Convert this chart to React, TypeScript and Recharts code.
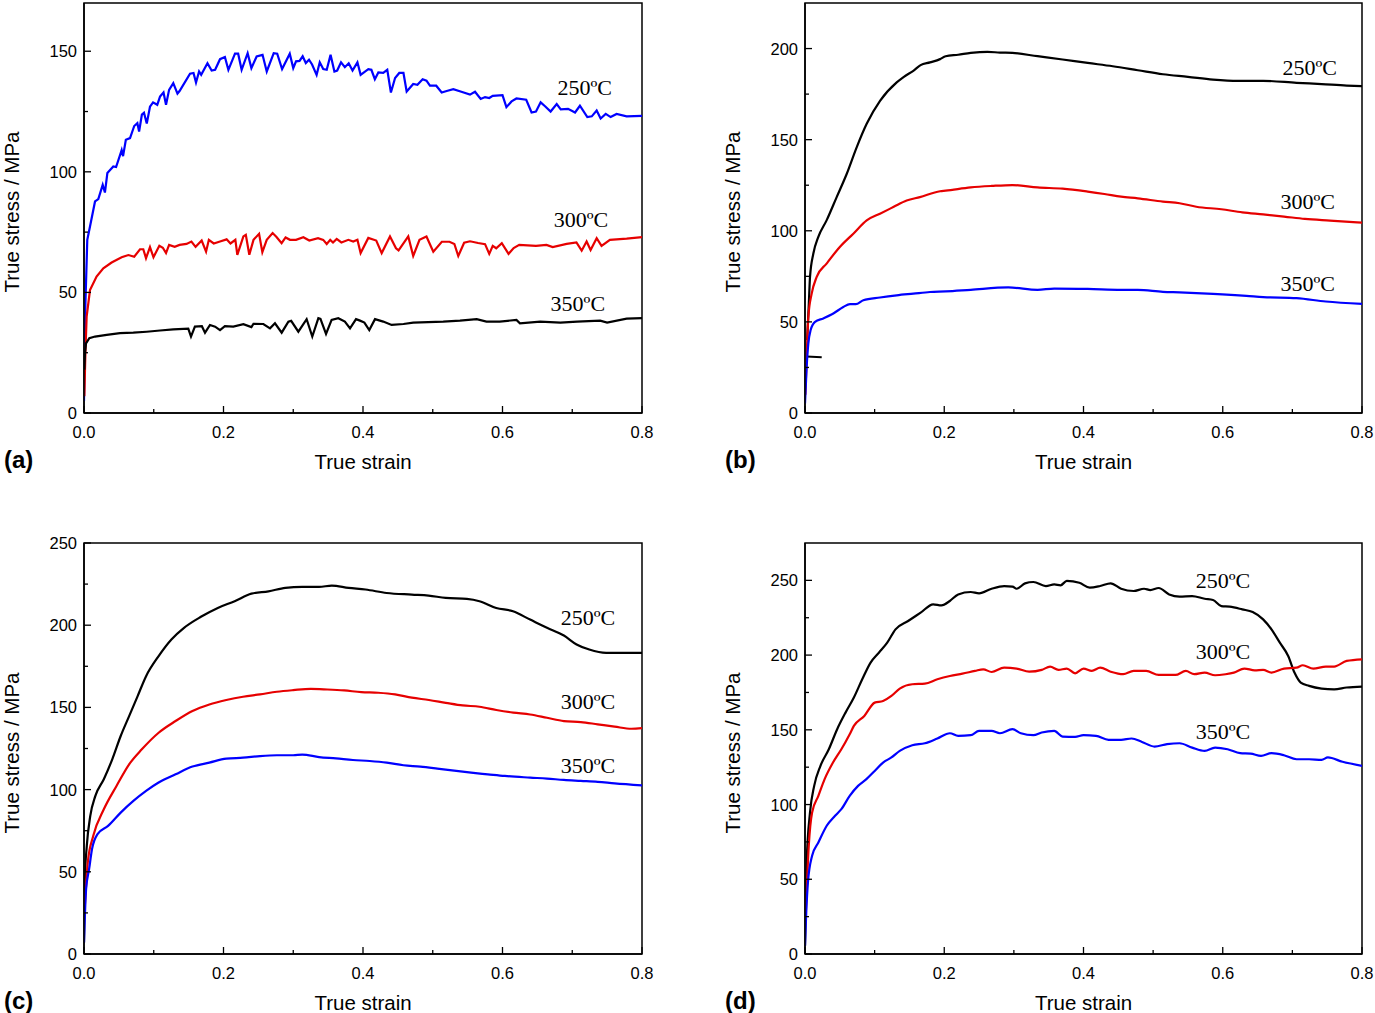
import { LineChart, Line, XAxis, YAxis, ReferenceArea, ReferenceDot } from 'recharts'

// Shared ticks / labels
const strainTicks = [0, 0.1, 0.2, 0.3, 0.4, 0.5, 0.6, 0.7, 0.8]
const stressTicksA = [0, 25, 50, 75, 100, 125, 150]
const stressTicksB = [0, 25, 50, 75, 100, 125, 150, 175, 200]
const stressTicksCD = [0, 25, 50, 75, 100, 125, 150, 175, 200, 225, 250]
const temps = ['250ºC', '300ºC', '350ºC']

// (a) [strain, stress]
const a250 = [
  [0, 5], [0.002, 45], [0.0047, 71.8], [0.0086, 77.3], [0.0158, 87.7], [0.0205, 88.7], [0.0268, 94.6], [0.03, 91.4],
  [0.0335, 99.5], [0.042, 102.2], [0.046, 102], [0.054, 109], [0.056, 106.5], [0.06, 113.3], [0.066, 114], [0.072, 119],
  [0.0765, 120.2], [0.079, 116.7], [0.083, 123.7], [0.086, 124.5], [0.09, 120], [0.0946, 127], [0.099, 128.8], [0.105, 127.8],
  [0.109, 131.2], [0.114, 132.9], [0.1176, 127.8], [0.122, 134], [0.128, 136.8], [0.134, 132.4], [0.137, 133.5], [0.152, 140.7],
  [0.157, 141], [0.1606, 137], [0.165, 141.6], [0.168, 140.2], [0.177, 145], [0.183, 142], [0.188, 142.3], [0.195, 146.7],
  [0.202, 147.6], [0.207, 142.3], [0.2165, 149], [0.221, 149], [0.226, 142.3], [0.2346, 149.2], [0.24, 143], [0.2475, 147.8],
  [0.256, 148.5], [0.262, 141.6], [0.272, 149.2], [0.277, 149], [0.284, 142.6], [0.295, 149], [0.3, 143], [0.304, 145.8],
  [0.309, 146], [0.3135, 147.9], [0.318, 145.1], [0.3226, 146.5], [0.327, 144.5], [0.3335, 140.2], [0.338, 145.4], [0.343, 142.6],
  [0.348, 142.3], [0.3535, 148.5], [0.359, 141.6], [0.363, 142], [0.3685, 145.4], [0.374, 143.4], [0.3795, 145], [0.385, 142],
  [0.392, 145.4], [0.3966, 140.2], [0.4076, 142.6], [0.412, 142.3], [0.417, 138.4], [0.422, 141.2], [0.429, 141], [0.4348, 142.3],
  [0.44, 132.9], [0.446, 138.9], [0.452, 141], [0.458, 141], [0.4626, 133.3], [0.472, 136.4], [0.478, 136.1], [0.4855, 138.4],
  [0.491, 137.8], [0.496, 135.7], [0.505, 135.7], [0.5128, 132.9], [0.52, 133.5], [0.5295, 134.3], [0.541, 133.2], [0.5534, 132],
  [0.5606, 133.2], [0.5687, 130.2], [0.575, 131], [0.581, 130.6], [0.586, 131.5], [0.6, 131.8], [0.6056, 126.8], [0.613, 129.2],
  [0.62, 130.4], [0.634, 129.9], [0.6417, 124.6], [0.648, 125], [0.6547, 128.8], [0.661, 127.2], [0.669, 125], [0.6777, 128.1],
  [0.6835, 125.9], [0.694, 126.1], [0.704, 124.6], [0.711, 127.4], [0.7216, 122.7], [0.728, 123], [0.735, 125.4], [0.7407, 122.1],
  [0.748, 124], [0.755, 122.7], [0.7636, 124], [0.778, 123], [0.8, 123.2],
]
const a300 = [
  [0.0005, 7], [0.002, 25], [0.0038, 40], [0.0086, 51], [0.018, 56.6], [0.0277, 60], [0.0396, 62.4], [0.054, 64.6],
  [0.0637, 65.5], [0.072, 64.8], [0.0803, 67.9], [0.085, 67.9], [0.0889, 64.2], [0.0946, 68.8], [0.0996, 64.6], [0.108, 69.3],
  [0.113, 68.5], [0.1176, 66.3], [0.122, 69.7], [0.13, 68.9], [0.137, 69.7], [0.147, 70.1], [0.154, 71.1], [0.16, 68.9],
  [0.1687, 71.5], [0.175, 66.9], [0.179, 71.8], [0.186, 70.3], [0.195, 71.1], [0.2045, 72], [0.21, 70.3], [0.217, 71.8],
  [0.2198, 65.6], [0.2285, 73.2], [0.232, 73.9], [0.237, 65.6], [0.243, 71.8], [0.251, 74.3], [0.2557, 66.7], [0.262, 71.8],
  [0.2704, 74.6], [0.276, 73], [0.2833, 70.4], [0.289, 72.8], [0.2953, 71.8], [0.304, 71.8], [0.3145, 72.9], [0.323, 71.5],
  [0.3355, 72.5], [0.343, 71.8], [0.348, 70.1], [0.353, 71.8], [0.357, 70.7], [0.3623, 72.2], [0.369, 70.7], [0.379, 71.8],
  [0.386, 71.1], [0.392, 71.8], [0.3966, 66.3], [0.4076, 72.6], [0.419, 71.5], [0.4268, 66.3], [0.4387, 73.2], [0.4473, 68.3],
  [0.451, 67.4], [0.4649, 73.2], [0.472, 65.1], [0.481, 71.8], [0.491, 73.2], [0.5008, 66.9], [0.513, 71], [0.524, 71],
  [0.531, 70.1], [0.5366, 65.1], [0.545, 70.6], [0.5534, 71.2], [0.565, 70.5], [0.575, 70], [0.581, 66], [0.586, 69.3],
  [0.591, 68.3], [0.599, 70.4], [0.6087, 66], [0.616, 68.4], [0.624, 69.7], [0.648, 69.3], [0.663, 69.7], [0.672, 68.8],
  [0.692, 70.1], [0.706, 70.7], [0.7135, 67.3], [0.7206, 71.1], [0.7263, 67.6], [0.735, 72.5], [0.742, 69.3], [0.754, 71.8],
  [0.778, 72.3], [0.8, 72.9],
]
const a350 = [
  [0.0005, 18], [0.0014, 24.8], [0.0029, 28.9], [0.0076, 31], [0.0158, 31.7], [0.0325, 32.4], [0.0516, 33.1], [0.0707, 33.3],
  [0.0898, 33.7], [0.109, 34.2], [0.128, 34.7], [0.1495, 35], [0.1534, 31.7], [0.159, 35.8], [0.169, 36], [0.1735, 33.3],
  [0.1806, 36.5], [0.188, 35.8], [0.195, 34.4], [0.202, 36], [0.214, 35.8], [0.2285, 36.8], [0.24, 35.6], [0.243, 37],
  [0.2571, 36.9], [0.2667, 35.1], [0.2738, 37.2], [0.2834, 33.3], [0.293, 37.9], [0.297, 38.2], [0.3073, 33.7], [0.3192, 38.9],
  [0.3273, 31.7], [0.336, 39.3], [0.339, 39], [0.347, 32.8], [0.355, 38.6], [0.3646, 39.3], [0.374, 37.9], [0.3814, 35.1],
  [0.39, 38.9], [0.3957, 38.3], [0.402, 37.5], [0.409, 34.4], [0.4172, 38.9], [0.429, 37.9], [0.441, 36.5], [0.458, 36.9],
  [0.472, 37.5], [0.515, 37.9], [0.539, 38.3], [0.563, 38.9], [0.577, 37.9], [0.596, 37.9], [0.62, 38.6], [0.625, 37.2],
  [0.654, 37.9], [0.683, 37.5], [0.707, 37.9], [0.74, 38.3], [0.75, 37.5], [0.778, 39.1], [0.8, 39.3],
]

// (b)
const b250 = [
  [0.003, 40], [0.0055, 60], [0.0072, 74.7], [0.012, 87.5], [0.019, 96.5], [0.031, 105.7], [0.0455, 118.5], [0.06, 131.3],
  [0.0742, 145.8], [0.0886, 158.7], [0.108, 171.4], [0.1317, 181.4], [0.142, 184.5], [0.1556, 187.8], [0.166, 190.9],
  [0.1795, 192.4], [0.194, 194.2], [0.202, 195.8], [0.22, 196.6], [0.238, 197.6], [0.262, 198.2], [0.28, 197.8], [0.298, 197.6],
  [0.334, 195.8], [0.37, 194], [0.406, 192.1], [0.442, 190.3], [0.478, 188.1], [0.514, 185.9], [0.55, 184.5], [0.586, 183],
  [0.622, 182.3], [0.658, 182.3], [0.706, 181.2], [0.742, 180.5], [0.778, 179.7], [0.8, 179.4],
]
const b250Stub = [[0.002, 31], [0.024, 30.6]]
const b300 = [
  [0.0005, 10], [0.0024, 30.8], [0.0048, 52.7], [0.0096, 65.5], [0.0168, 74.7], [0.031, 82], [0.05, 91.1], [0.0694, 98.4],
  [0.0886, 105.7], [0.1077, 109.4], [0.1268, 113], [0.146, 116.6], [0.165, 118.5], [0.194, 121.7], [0.202, 122], [0.238, 123.8],
  [0.268, 124.6], [0.298, 125.1], [0.334, 123.8], [0.37, 123.1], [0.406, 121.5], [0.43, 120.2], [0.454, 118.7], [0.478, 117.8],
  [0.514, 116], [0.538, 115.1], [0.562, 113.2], [0.598, 111.8], [0.628, 110.1], [0.658, 109], [0.688, 107.8], [0.718, 106.5],
  [0.754, 105.6], [0.8, 104.5],
]
const b350 = [
  [0, 5.3], [0.0024, 25.4], [0.0048, 38.2], [0.0081, 45.5], [0.0144, 50], [0.0263, 51.9], [0.0407, 54.6], [0.055, 58.2],
  [0.0646, 59.7], [0.073, 59.7], [0.0838, 61.9], [0.1077, 63.4], [0.1317, 64.6], [0.1556, 65.5], [0.1795, 66.4], [0.202, 66.7],
  [0.238, 67.6], [0.292, 68.9], [0.334, 67.6], [0.358, 68.3], [0.406, 68.1], [0.454, 67.6], [0.478, 67.6], [0.514, 66.5],
  [0.538, 66.2], [0.586, 65.4], [0.634, 64.3], [0.658, 63.6], [0.706, 63], [0.748, 61.2], [0.8, 59.9],
]

// (c)
const c250 = [
  [0, 7], [0.0012, 45.5], [0.004, 65.8], [0.009, 84], [0.0163, 96.2], [0.0284, 106.3], [0.0405, 118.4], [0.0526, 132.6],
  [0.0647, 144.7], [0.0769, 156.9], [0.089, 169], [0.107, 181.2], [0.1253, 191.3], [0.1434, 198.4], [0.1676, 205.1],
  [0.1918, 210.5], [0.216, 214.6], [0.24, 219.2], [0.2645, 220.6], [0.2887, 222.7], [0.3129, 223.3], [0.337, 223.3],
  [0.3552, 224.1], [0.3794, 222.7], [0.4036, 221.7], [0.4339, 219.6], [0.47, 218.6], [0.494, 218], [0.5186, 216.6],
  [0.5489, 216], [0.567, 214.6], [0.591, 210.5], [0.615, 208.5], [0.6396, 203.4], [0.6638, 198.4], [0.688, 193.7],
  [0.7062, 188.3], [0.7244, 185.2], [0.7486, 183.2], [0.7728, 183.2], [0.8, 183.2],
]
const c300 = [
  [0.0012, 29.4], [0.0054, 55.7], [0.0133, 71.9], [0.0284, 88], [0.0466, 102.2], [0.0647, 115.4], [0.0829, 124.5],
  [0.107, 134.6], [0.1313, 141.7], [0.1555, 147.8], [0.1797, 151.8], [0.204, 154.5], [0.228, 156.5], [0.2523, 157.9],
  [0.2765, 159.5], [0.3, 160.5], [0.325, 161.3], [0.349, 160.9], [0.373, 160.3], [0.3976, 159.3], [0.4218, 158.9],
  [0.446, 157.9], [0.47, 155.9], [0.4944, 154.5], [0.5186, 152.8], [0.5428, 151.2], [0.567, 150.4], [0.5912, 148.4],
  [0.6154, 146.8], [0.6396, 145.7], [0.6638, 143.7], [0.688, 141.7], [0.7123, 141.1], [0.7365, 139.7], [0.7607, 138.3],
  [0.785, 137], [0.8, 137.4],
]
const c350 = [
  [0, 7], [0.003, 39.5], [0.0073, 51.6], [0.0115, 63.8], [0.0194, 72.9], [0.0345, 77.9], [0.0526, 86], [0.0708, 93.1],
  [0.089, 99.2], [0.107, 104.3], [0.1313, 109.3], [0.1555, 114], [0.1797, 116.4], [0.204, 118.8], [0.228, 119.4],
  [0.2523, 120.4], [0.2765, 120.9], [0.3, 120.9], [0.3129, 121.3], [0.337, 119.8], [0.3613, 119], [0.3855, 118],
  [0.4097, 117.4], [0.434, 116.4], [0.458, 114.8], [0.4823, 114], [0.5065, 112.8], [0.5307, 111.5], [0.555, 110.3],
  [0.579, 109.3], [0.6034, 108.3], [0.6396, 107.3], [0.6638, 106.7], [0.688, 105.9], [0.7123, 105.3], [0.7365, 104.7],
  [0.7607, 103.8], [0.8, 102.6],
]

// (d)
const d250 = [
  [0, 5.6], [0.0024, 61.3], [0.0072, 94.7], [0.0132, 112.5], [0.0222, 125.9], [0.0342, 137], [0.0462, 150.4], [0.0582, 161.5],
  [0.0702, 171.6], [0.0822, 183.8], [0.0942, 195], [0.1061, 201.6], [0.1181, 208.3], [0.13, 217.2], [0.1481, 222.8],
  [0.1661, 228.4], [0.1841, 234], [0.196, 233.3], [0.208, 236.2], [0.22, 240.6], [0.238, 242.2], [0.25, 241.3], [0.268, 244.4],
  [0.286, 246.2], [0.298, 245.8], [0.304, 244.4], [0.316, 248], [0.328, 248.9], [0.346, 246.2], [0.358, 247.3], [0.367, 246.7],
  [0.376, 249.6], [0.394, 248.4], [0.409, 245.1], [0.424, 246.2], [0.439, 248], [0.454, 244.4], [0.472, 242.9], [0.487, 244.4],
  [0.496, 243.5], [0.508, 244.9], [0.523, 240.6], [0.538, 239.1], [0.556, 239.5], [0.574, 237.7], [0.586, 236.9], [0.598, 232.8],
  [0.61, 232.4], [0.628, 230.6], [0.643, 228.8], [0.658, 223.9], [0.67, 217.2], [0.682, 208.3], [0.694, 199.4], [0.703, 188.3],
  [0.712, 181.6], [0.724, 179.4], [0.742, 177.6], [0.76, 177.1], [0.778, 178.3], [0.8, 178.9],
]
const d300 = [
  [0.0012, 27.9], [0.0054, 72.4], [0.0102, 94.7], [0.0192, 105.8], [0.0282, 117], [0.0402, 128.1], [0.0522, 137],
  [0.0642, 147.1], [0.0702, 152.6], [0.0852, 159.3], [0.1001, 168.2], [0.1121, 169.3], [0.1241, 172.7], [0.1361, 177.6],
  [0.1541, 180.5], [0.1721, 180.9], [0.1901, 183.8], [0.2081, 186], [0.2261, 187.6], [0.2441, 189.4], [0.256, 190.5],
  [0.268, 188.7], [0.286, 191.6], [0.304, 191], [0.322, 188.9], [0.34, 190.1], [0.352, 192.3], [0.364, 190.1], [0.376, 191],
  [0.388, 187.8], [0.4, 191], [0.412, 189.4], [0.424, 191.6], [0.439, 188.9], [0.457, 187.2], [0.472, 189.4], [0.49, 189.4],
  [0.508, 186.7], [0.532, 186.7], [0.547, 189.4], [0.559, 187.2], [0.574, 188.3], [0.589, 186.5], [0.604, 187.2],
  [0.616, 188.3], [0.631, 191], [0.646, 189.8], [0.658, 190.1], [0.67, 188.3], [0.688, 191], [0.706, 191.6], [0.715, 193.2],
  [0.73, 191], [0.748, 192.3], [0.76, 192.3], [0.778, 196.1], [0.8, 197.2],
]
const d350 = [
  [0, 5.6], [0.0018, 27.9], [0.0042, 47.9], [0.0102, 65.7], [0.0192, 74.6], [0.0312, 85.8], [0.0432, 92.5], [0.0522, 96.9],
  [0.0642, 105.8], [0.0762, 112.5], [0.0882, 117], [0.1001, 122.5], [0.1121, 128.1], [0.1241, 131.5], [0.1361, 135.9],
  [0.1541, 139.7], [0.1721, 141], [0.1901, 144.2], [0.2081, 147.7], [0.22, 145.9], [0.238, 146.4], [0.25, 149.3],
  [0.268, 149.3], [0.28, 147.7], [0.298, 150.4], [0.31, 147.7], [0.328, 146.4], [0.34, 148.2], [0.358, 149.3], [0.37, 145.5],
  [0.388, 145.3], [0.4, 146.4], [0.418, 145.9], [0.436, 143.3], [0.454, 143.3], [0.469, 144.2], [0.484, 141.9], [0.502, 138.8],
  [0.52, 140.4], [0.538, 141], [0.556, 138.1], [0.574, 135.9], [0.589, 138.1], [0.607, 137], [0.625, 134.4], [0.64, 134.1],
  [0.655, 132.6], [0.67, 134.4], [0.688, 133], [0.706, 130.3], [0.724, 130.3], [0.742, 129.9], [0.751, 131.5], [0.772, 128.6],
  [0.8, 125.9],
]

const BLUE = '#0000ff'
const RED = '#e60000'
const BLACK = '#000000'
const SANS = '"Liberation Sans", Arial, sans-serif'
const SERIF = '"Liberation Serif", "Times New Roman", serif'

const toPoints = (arr: number[][]) => arr.map(([strain, stress]) => ({ strain, stress }))

interface SeriesDef {
  name: string
  color: string
  points: number[][]
}

interface PanelProps {
  letter: string
  plotLeft: number
  plotRight: number
  plotTop: number
  plotBottom: number
  yMax: number
  yTicks: number[]
  curve: 'linear' | 'monotone'
  series: SeriesDef[]
  labels: { text: string; strain: number; stress: number }[]
}

// inward ticks: major ones labelled, minor ones shorter
const XTick = (props: any) => {
  const { x, y, payload } = props
  const major = Math.round(payload.value * 10) % 2 === 0
  return (
    <g>
      <line x1={x} y1={y} x2={x} y2={y - (major ? 7 : 4)} stroke="#000" strokeWidth={1.3} />
      {major && (
        <text x={x} y={y + 25} textAnchor="middle" fontSize={16.5} fontFamily={SANS} fill="#000">
          {Number(payload.value).toFixed(1)}
        </text>
      )}
    </g>
  )
}

const YTick = (props: any) => {
  const { x, y, payload } = props
  const major = payload.value % 50 === 0
  return (
    <g>
      <line x1={x} y1={y} x2={x + (major ? 7 : 4)} y2={y} stroke="#000" strokeWidth={1.3} />
      {major && (
        <text x={x - 7} y={y + 6} textAnchor="end" fontSize={16.5} fontFamily={SANS} fill="#000">
          {payload.value}
        </text>
      )}
    </g>
  )
}

const TOP = 15

function Panel({ letter, plotLeft, plotRight, plotTop, plotBottom, yMax, yTicks, curve, series, labels }: PanelProps) {
  const left = plotLeft - 84
  const top = plotTop - TOP
  const width = plotRight - left + 48
  const height = plotBottom - top + 92
  return (
    <div style={{ position: 'absolute', left, top, width, height }}>
      <LineChart width={width} height={height} margin={{ top: TOP, right: 48, bottom: 62, left: 44 }}>
        <XAxis
          type="number"
          dataKey="strain"
          domain={[0, 0.8]}
          ticks={strainTicks}
          interval={0}
          height={30}
          tickSize={0}
          tickMargin={0}
          tickLine={false}
          axisLine={{ stroke: '#000', strokeWidth: 1.5 }}
          tick={(p: any) => <XTick {...p} />}
          allowDataOverflow
        />
        <YAxis
          type="number"
          domain={[0, yMax]}
          ticks={yTicks}
          interval={0}
          width={40}
          tickSize={0}
          tickMargin={0}
          tickLine={false}
          axisLine={{ stroke: '#000', strokeWidth: 1.5 }}
          tick={(p: any) => <YTick {...p} />}
          allowDataOverflow
        />
        <ReferenceArea x1={0} x2={0.8} y1={0} y2={yMax} fill="none" stroke="#000" strokeWidth={1.5} />
        {series.map((s) => (
          <Line
            key={s.name}
            data={toPoints(s.points)}
            dataKey="stress"
            type={curve}
            stroke={s.color}
            strokeWidth={2.2}
            dot={false}
            isAnimationActive={false}
          />
        ))}
        {labels.map((l) => (
          <ReferenceDot
            key={l.text}
            x={l.strain}
            y={l.stress}
            r={0}
            fill="none"
            stroke="none"
            label={{ value: l.text, position: 'center', fill: '#000', fontSize: 22, fontFamily: SERIF }}
          />
        ))}
      </LineChart>
      <div
        style={{
          position: 'absolute',
          left: 12 - 150,
          top: (plotTop + plotBottom) / 2 + 4 - top - 12,
          width: 300,
          textAlign: 'center',
          transform: 'rotate(-90deg)',
          fontFamily: SANS,
          fontSize: 20.5,
          lineHeight: '24px',
        }}
      >
        True stress / MPa
      </div>
      <div
        style={{
          position: 'absolute',
          left: (plotLeft + plotRight) / 2 - left - 100,
          top: plotBottom + 49 - top - 12,
          width: 200,
          textAlign: 'center',
          fontFamily: SANS,
          fontSize: 20.5,
          lineHeight: '24px',
        }}
      >
        True strain
      </div>
      <div
        style={{
          position: 'absolute',
          left: 4,
          top: plotBottom + 47 - top - 15,
          fontFamily: SANS,
          fontWeight: 'bold',
          fontSize: 24,
          lineHeight: '30px',
        }}
      >
        ({letter})
      </div>
    </div>
  )
}

export default function App() {
  return (
    <div style={{ position: 'absolute', left: 0, top: 0, width: 1375, height: 1013, background: '#fff' }}>
      <Panel
        letter="a"
        plotLeft={84}
        plotRight={642}
        plotTop={3}
        plotBottom={413}
        yMax={170}
        yTicks={stressTicksA}
        curve="linear"
        series={[
          { name: '250', color: BLUE, points: a250 },
          { name: '300', color: RED, points: a300 },
          { name: '350', color: BLACK, points: a350 },
        ]}
        labels={[
          { text: temps[0], strain: 0.718, stress: 135 },
          { text: temps[1], strain: 0.7125, stress: 80.5 },
          { text: temps[2], strain: 0.708, stress: 45.6 },
        ]}
      />
      <Panel
        letter="b"
        plotLeft={805}
        plotRight={1362}
        plotTop={3}
        plotBottom={413}
        yMax={225}
        yTicks={stressTicksB}
        curve="monotone"
        series={[
          { name: '250', color: BLACK, points: b250 },
          { name: '250stub', color: BLACK, points: b250Stub },
          { name: '300', color: RED, points: b300 },
          { name: '350', color: BLUE, points: b350 },
        ]}
        labels={[
          { text: temps[0], strain: 0.725, stress: 189.5 },
          { text: temps[1], strain: 0.722, stress: 116 },
          { text: temps[2], strain: 0.722, stress: 71.2 },
        ]}
      />
      <Panel
        letter="c"
        plotLeft={84}
        plotRight={642}
        plotTop={543}
        plotBottom={954}
        yMax={250}
        yTicks={stressTicksCD}
        curve="monotone"
        series={[
          { name: '250', color: BLACK, points: c250 },
          { name: '300', color: RED, points: c300 },
          { name: '350', color: BLUE, points: c350 },
        ]}
        labels={[
          { text: temps[0], strain: 0.7226, stress: 205 },
          { text: temps[1], strain: 0.7226, stress: 153.9 },
          { text: temps[2], strain: 0.7226, stress: 115 },
        ]}
      />
      <Panel
        letter="d"
        plotLeft={805}
        plotRight={1362}
        plotTop={543}
        plotBottom={954}
        yMax={275}
        yTicks={stressTicksCD}
        curve="monotone"
        series={[
          { name: '250', color: BLACK, points: d250 },
          { name: '300', color: RED, points: d300 },
          { name: '350', color: BLUE, points: d350 },
        ]}
        labels={[
          { text: temps[0], strain: 0.6004, stress: 250.3 },
          { text: temps[1], strain: 0.6004, stress: 202.8 },
          { text: temps[2], strain: 0.6004, stress: 149.3 },
        ]}
      />
    </div>
  )
}
